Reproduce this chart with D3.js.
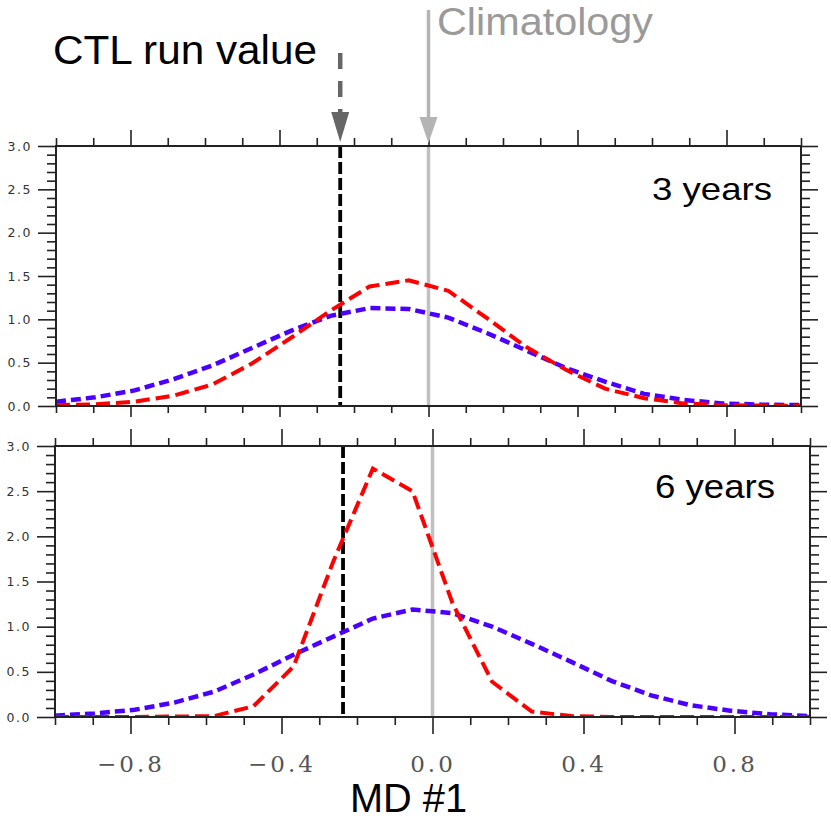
<!DOCTYPE html>
<html>
<head>
<meta charset="utf-8">
<script src="https://cdn.jsdelivr.net/npm/d3@7/dist/d3.min.js"></script>
<style>
  body { margin: 0; background: #fff; }
  svg { display: block; }
  .ylab text { font-family: "DejaVu Sans", sans-serif; font-size: 12.5px; fill: #333; letter-spacing: 1.5px; }
  .xlab text { font-family: "DejaVu Serif", serif; font-size: 23px; fill: #555; letter-spacing: 3px; }
  .big { font-family: "Liberation Sans", Arial, sans-serif; }
</style>
</head>
<body>
<svg id="chart" width="831" height="822"></svg>
<script>
// x positions of the pdf bins
var xBins = [-1.0, -0.895, -0.789, -0.684, -0.579, -0.474, -0.368, -0.263, -0.158, -0.053,
             0.053, 0.158, 0.263, 0.368, 0.474, 0.579, 0.684, 0.789, 0.895, 1.0];

// 3 years panel
var red3  = [0.01, 0.02, 0.05, 0.12, 0.25, 0.49, 0.79, 1.10, 1.38, 1.45,
             1.33, 1.01, 0.68, 0.42, 0.20, 0.09, 0.03, 0.01, 0.005, 0.0];
var blue3 = [0.05, 0.10, 0.18, 0.31, 0.47, 0.67, 0.87, 1.04, 1.13, 1.12,
             1.02, 0.84, 0.64, 0.44, 0.28, 0.14, 0.07, 0.03, 0.015, 0.01];

// 6 years panel
var red6  = [0.0, 0.0, 0.0, 0.005, 0.01, 0.12, 0.56, 1.72, 2.75, 2.50,
             1.26, 0.39, 0.06, 0.01, 0.0, 0.0, 0.0, 0.0, 0.0, 0.0];
var blue6 = [0.015, 0.04, 0.08, 0.16, 0.28, 0.47, 0.69, 0.89, 1.09, 1.19,
             1.15, 1.00, 0.81, 0.61, 0.40, 0.24, 0.13, 0.07, 0.03, 0.01];

var ctlValue = -0.237;
var climValue = 0.0;

var xMajor = [-0.8, -0.4, 0.0, 0.4, 0.8];
var xMinor = [-1.0, -0.9, -0.7, -0.6, -0.5, -0.3, -0.2, -0.1, 0.1, 0.2, 0.3, 0.5, 0.6, 0.7, 0.9, 1.0];
var yMajor = [0.0, 0.5, 1.0, 1.5, 2.0, 2.5, 3.0];
var yMinor = [0.1, 0.2, 0.3, 0.4, 0.6, 0.7, 0.8, 0.9, 1.1, 1.2, 1.3, 1.4, 1.6, 1.7, 1.8, 1.9,
              2.1, 2.2, 2.3, 2.4, 2.6, 2.7, 2.8, 2.9];

var svg = d3.select("#chart");

var panels = [
  { label: "3 years", red: red3, blue: blue3, left: 56, right: 801, top: 146, bottom: 406,
    labX: 652, labY: 200, labSize: 32, labLen: 120, botTick: 11, topTick: 16, xLabels: false },
  { label: "6 years", red: red6, blue: blue6, left: 55, right: 810, top: 446, bottom: 717,
    labX: 655, labY: 498, labSize: 33, labLen: 120, botTick: 17, topTick: 17, xLabels: true }
];

function tickAxis(g, axis) {
  g.call(axis);
  g.select(".domain").remove();
  g.selectAll(".tick line").attr("stroke", "#222").attr("stroke-width", 1.6);
}

panels.forEach(function (p, i) {
  var x = d3.scaleLinear().domain([-1, 1]).range([p.left, p.right]);
  var y = d3.scaleLinear().domain([0, 3]).range([p.bottom, p.top]);
  var g = svg.append("g");

  var clipId = "clip" + i;
  svg.append("clipPath").attr("id", clipId)
    .append("rect").attr("x", p.left).attr("y", p.top)
    .attr("width", p.right - p.left).attr("height", p.bottom - p.top);

  // tick marks on all four sides, pointing outwards
  var noLab = function () { return ""; };
  tickAxis(g.append("g").attr("transform", "translate(0," + p.top + ")"),
    d3.axisTop(x).tickValues(xMajor).tickSize(p.topTick).tickSizeOuter(0).tickFormat(noLab));
  tickAxis(g.append("g").attr("transform", "translate(0," + p.top + ")"),
    d3.axisTop(x).tickValues(xMinor).tickSize(8).tickSizeOuter(0).tickFormat(noLab));
  tickAxis(g.append("g").attr("transform", "translate(0," + p.bottom + ")"),
    d3.axisBottom(x).tickValues(xMinor).tickSize(p.botTick > 12 ? 8 : 7).tickSizeOuter(0).tickFormat(noLab));

  var xb = g.append("g").attr("class", "xlab").attr("transform", "translate(0," + p.bottom + ")");
  tickAxis(xb, d3.axisBottom(x).tickValues(xMajor).tickSize(p.botTick).tickSizeOuter(0)
    .tickPadding(22)
    .tickFormat(p.xLabels ? function (d) { return d3.format(".1f")(d).replace("-", "\u2212"); } : noLab));
  xb.selectAll("text").attr("fill", "#555").attr("font-family", null).attr("font-size", null);

  var yl = g.append("g").attr("class", "ylab").attr("transform", "translate(" + p.left + ",0)");
  tickAxis(yl, d3.axisLeft(y).tickValues(yMajor).tickSize(18).tickSizeOuter(0)
    .tickPadding(6).tickFormat(d3.format(".1f")));
  yl.selectAll("text").attr("fill", "#333").attr("font-family", null).attr("font-size", null);
  tickAxis(g.append("g").attr("transform", "translate(" + p.left + ",0)"),
    d3.axisLeft(y).tickValues(yMinor).tickSize(9).tickSizeOuter(0).tickFormat(noLab));
  tickAxis(g.append("g").attr("transform", "translate(" + p.right + ",0)"),
    d3.axisRight(y).tickValues(yMajor).tickSize(17).tickSizeOuter(0).tickFormat(noLab));
  tickAxis(g.append("g").attr("transform", "translate(" + p.right + ",0)"),
    d3.axisRight(y).tickValues(yMinor).tickSize(9).tickSizeOuter(0).tickFormat(noLab));

  var plot = g.append("g").attr("clip-path", "url(#" + clipId + ")");

  // climatology and CTL run vertical lines
  plot.append("line")
    .attr("x1", x(climValue)).attr("x2", x(climValue))
    .attr("y1", p.top).attr("y2", p.bottom)
    .attr("stroke", "#c0c0c0").attr("stroke-width", 3.5);
  plot.append("line")
    .attr("x1", x(ctlValue)).attr("x2", x(ctlValue))
    .attr("y1", p.top).attr("y2", p.bottom)
    .attr("stroke", "#000").attr("stroke-width", 3.8)
    .attr("stroke-dasharray", "12,4");

  var line = d3.line()
    .x(function (d, j) { return x(xBins[j]); })
    .y(function (d) { return y(d); });

  plot.append("path").datum(p.blue).attr("d", line)
    .attr("fill", "none").attr("stroke", "#4b00ff").attr("stroke-width", 4.5)
    .attr("stroke-dasharray", "10,5");
  plot.append("path").datum(p.red).attr("d", line)
    .attr("fill", "none").attr("stroke", "#ff0000").attr("stroke-width", 4)
    .attr("stroke-dasharray", "14,6");

  // frame
  g.append("rect")
    .attr("x", p.left).attr("y", p.top)
    .attr("width", p.right - p.left).attr("height", p.bottom - p.top)
    .attr("fill", "none").attr("stroke", "#222").attr("stroke-width", 2);

  g.append("text").attr("class", "big")
    .attr("x", p.labX).attr("y", p.labY)
    .attr("font-size", p.labSize)
    .attr("textLength", p.labLen).attr("lengthAdjust", "spacingAndGlyphs")
    .text(p.label);

  p.x = x;
});

// annotation arrows above the top panel
var xTop = panels[0].x;

svg.append("line")
  .attr("x1", xTop(ctlValue)).attr("x2", xTop(ctlValue))
  .attr("y1", 53).attr("y2", 112)
  .attr("stroke", "#666").attr("stroke-width", 4.5)
  .attr("stroke-dasharray", "16,12");
svg.append("path")
  .attr("d", "M" + (xTop(ctlValue) - 9) + ",112 L" + (xTop(ctlValue) + 9) + ",112 L" + xTop(ctlValue) + ",142 Z")
  .attr("fill", "#666");

svg.append("line")
  .attr("x1", xTop(climValue)).attr("x2", xTop(climValue))
  .attr("y1", 10).attr("y2", 117)
  .attr("stroke", "#b4b4b4").attr("stroke-width", 3.5);
svg.append("path")
  .attr("d", "M" + (xTop(climValue) - 9) + ",117 L" + (xTop(climValue) + 9) + ",117 L" + xTop(climValue) + ",143 Z")
  .attr("fill", "#b4b4b4");

svg.append("text").attr("class", "big")
  .attr("x", 53).attr("y", 64).attr("font-size", 40)
  .attr("textLength", 264).attr("lengthAdjust", "spacingAndGlyphs")
  .attr("fill", "#000").text("CTL run value");

svg.append("text").attr("class", "big")
  .attr("x", 437).attr("y", 35).attr("font-size", 38)
  .attr("textLength", 216).attr("lengthAdjust", "spacingAndGlyphs")
  .attr("fill", "#9a9a9a").text("Climatology");

svg.append("text").attr("class", "big")
  .attr("x", 350).attr("y", 812).attr("font-size", 40)
  .attr("textLength", 117).attr("lengthAdjust", "spacingAndGlyphs")
  .attr("fill", "#000").text("MD #1");
</script>
</body>
</html>
